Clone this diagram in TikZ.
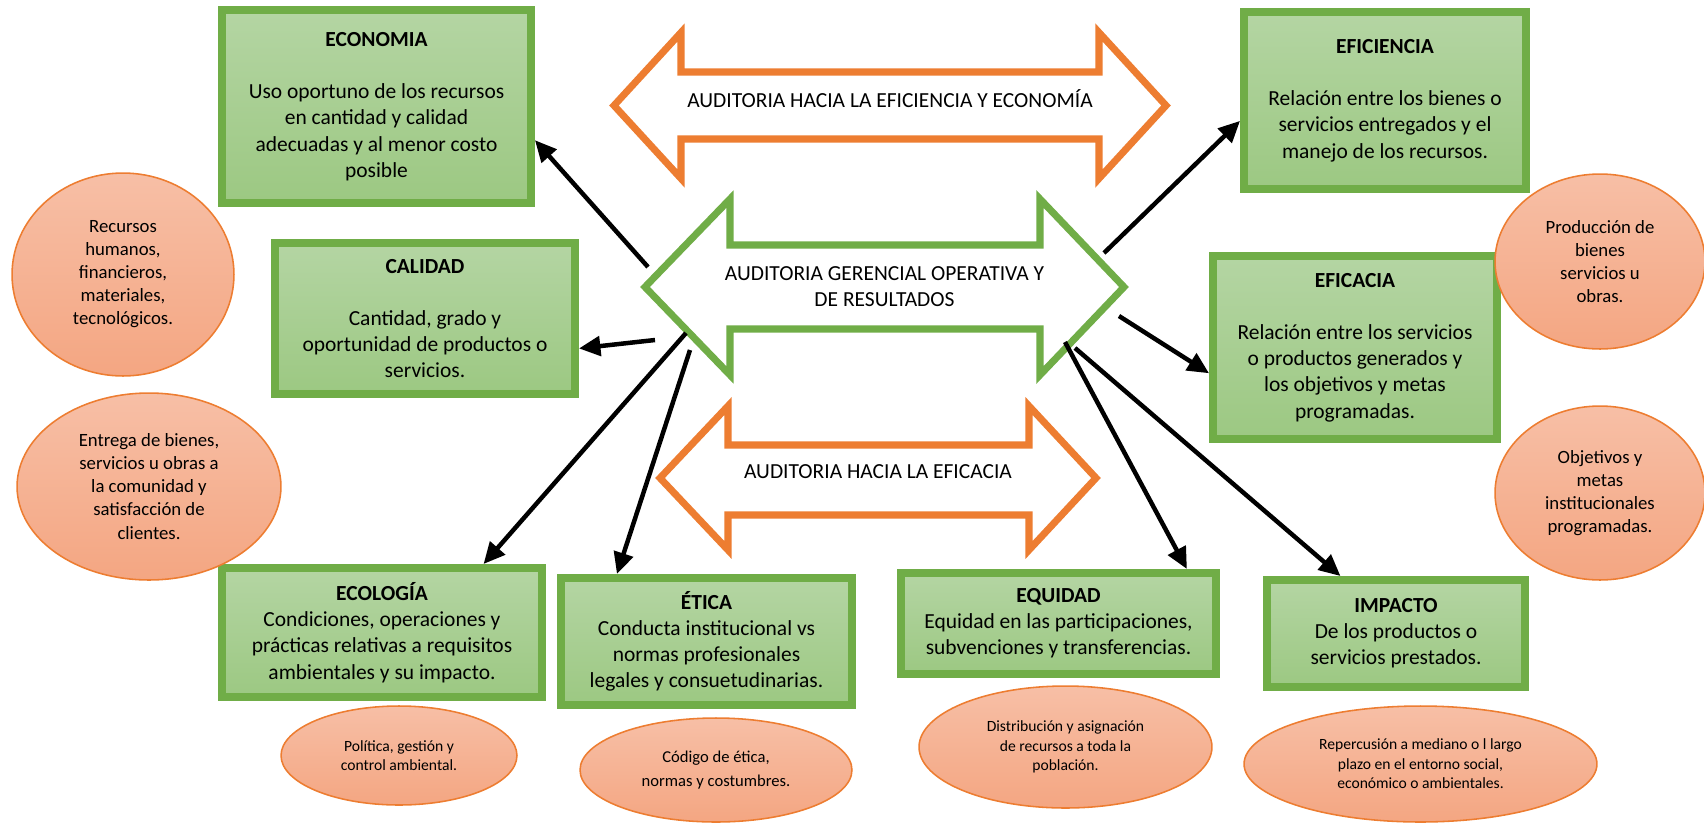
\documentclass[tikz,border=0pt]{standalone}
\usepackage{fontspec}
\setmainfont{Carlito}
\usepackage{tikz}
\usetikzlibrary{arrows.meta,shapes.geometric}
\definecolor{boxgreen}{RGB}{112,173,71}
\definecolor{boxtop}{RGB}{180,213,163}
\definecolor{boxbottom}{RGB}{156,200,130}
\definecolor{auditorange}{RGB}{237,125,49}
\definecolor{elltop}{RGB}{247,191,166}
\definecolor{ellbottom}{RGB}{244,166,130}
\tikzset{
  area/.style={draw=boxgreen,line width=4.1pt,top color=boxtop,bottom color=boxbottom,
    align=center,inner sep=0pt,font=\fontsize{11}{13.4}\selectfont},
  idea/.style={ellipse,draw=auditorange,line width=0.8pt,top color=elltop,bottom color=ellbottom,
    align=center,inner sep=0pt,font=\fontsize{9.6}{11.8}\selectfont},
  smallidea/.style={idea,font=\fontsize{8}{10}\selectfont},
  bigarrow/.style={line width=3.6pt,fill=white,line join=miter},
  arrowtext/.style={align=center,inner sep=0pt,font=\fontsize{11}{13}\selectfont},
  link/.style={->,line width=2.3pt}
}

\begin{document}
\begin{tikzpicture}[x=0.018cm,y=-0.018cm,>={Triangle[length=11pt,width=10pt]}]
\useasboundingbox (0,0) rectangle (1704,822);
% the three double arrows
\draw[bigarrow,draw=auditorange] (614,105.5) -- (681,32.5) -- (681,72) -- (1099,72) -- (1099,32.5) -- (1166,105.5) -- (1099,178.5) -- (1099,139) -- (681,139) -- (681,178.5) -- cycle;
\node[arrowtext] (ee) at (890,99) {AUDITORIA HACIA LA EFICIENCIA Y ECONOMÍA};
\draw[bigarrow,draw=boxgreen] (645,287) -- (730,199) -- (730,245) -- (1040,245) -- (1040,199) -- (1124,287) -- (1040,375) -- (1040,329) -- (730,329) -- (730,375) -- cycle;
\node[arrowtext] (ago) at (884.5,286.5) {AUDITORIA GERENCIAL OPERATIVA Y\\DE RESULTADOS};
\draw[bigarrow,draw=auditorange] (660,478) -- (728,406) -- (728,445) -- (1029,445) -- (1029,406) -- (1096,478) -- (1029,550) -- (1029,515) -- (728,515) -- (728,550) -- cycle;
\node[arrowtext] (ea) at (878,472) {AUDITORIA HACIA LA EFICACIA};
% green boxes
\node[area,minimum width=5.562cm,minimum height=3.474cm] (eco) at (376.5,106.5) {\textbf{ECONOMIA}\\[13.4pt]Uso oportuno de los recursos\\en cantidad y calidad\\adecuadas y al menor costo\\posible};
\node[area,minimum width=5.4cm,minimum height=2.718cm] (cal) at (425,318.5) {\textbf{CALIDAD}\\[13.4pt]Cantidad, grado y\\oportunidad de productos o\\servicios.};
\node[area,minimum width=5.76cm,minimum height=2.322cm] (ecol) at (382,632.5) {\textbf{ECOLOGÍA}\\Condiciones, operaciones y\\prácticas relativas a requisitos\\ambientales y su impacto.};
\node[area,minimum width=5.238cm,minimum height=2.286cm] (eti) at (706.5,641.5) {\textbf{ÉTICA}\\Conducta institucional vs\\normas profesionales\\legales y consuetudinarias.};
\node[area,minimum width=5.67cm,minimum height=1.818cm] (equ) at (1058.5,623.5) {\textbf{EQUIDAD}\\Equidad en las participaciones,\\subvenciones y transferencias.};
\node[area,minimum width=4.644cm,minimum height=1.926cm] (imp) at (1396,633.5) {\textbf{IMPACTO}\\De los productos o\\servicios prestados.};
\node[area,minimum width=5.076cm,minimum height=3.186cm] (efi) at (1385,100.5) {\textbf{EFICIENCIA}\\[13.4pt]Relación entre los bienes o\\servicios entregados y el\\manejo de los recursos.};
\node[area,minimum width=5.112cm,minimum height=3.294cm] (efa) at (1355,347.5) {\textbf{EFICACIA}\\[13.4pt]Relación entre los servicios\\o productos generados y\\los objetivos y metas\\programadas.};
% orange ellipses
\node[idea,minimum width=3.996cm,minimum height=3.654cm] (rec) at (123,274.5) {Recursos\\humanos,\\financieros,\\materiales,\\tecnológicos.};
\node[idea,minimum width=4.752cm,minimum height=3.366cm] (ent) at (149,486.5) {Entrega de bienes,\\servicios u obras a\\la comunidad y\\satisfacción de\\clientes.};
\node[smallidea,minimum width=4.248cm,minimum height=1.782cm] (pol) at (399,755.5) {Política, gestión y\\control ambiental.};
\node[idea,font=\fontsize{8.5}{12.2}\selectfont,minimum width=4.896cm,minimum height=1.872cm] (cod) at (716,770) {Código de ética,\\normas y costumbres.};
\node[smallidea,minimum width=5.274cm,minimum height=2.196cm] (dis) at (1065.5,747) {Distribución y asignación\\de recursos a toda la\\población.};
\node[smallidea,minimum width=6.354cm,minimum height=2.088cm] (rep) at (1420.5,764) {Repercusión a mediano o l largo\\plazo en el entorno social,\\económico o ambientales.};
\node[idea,minimum width=3.78cm,minimum height=3.132cm] (obj) at (1600,493) {Objetivos y\\metas\\institucionales\\programadas.};
\node[idea,minimum width=3.78cm,minimum height=3.15cm] (pro) at (1600,261.5) {Producción de\\bienes\\servicios u\\obras.};
% connectors from the central arrow
\coordinate (s-eco) at (648,267);
\coordinate (s-cal) at (655,340);
\coordinate (s-ecol) at (686,333);
\coordinate (s-eti) at (690,350);
\coordinate (s-equ) at (1065,342);
\coordinate (s-imp) at (1075,348);
\coordinate (s-efa) at (1119,316);
\coordinate (s-efi) at (1104,253);
\draw[link] (s-eco) -- (eco.-12);
\draw[link] (s-cal) -- (cal.-11);
\draw[link] (s-ecol) -- (ecol.34);
\draw[link] (s-eti) -- (eti.143);
\draw[link] (s-equ) -- (equ.23);
\draw[link] (s-imp) -- (imp.134);
\draw[link] (s-efa) -- (efa.190);
\draw[link] (s-efi) -- (efi.188);
\end{tikzpicture}
\end{document}
